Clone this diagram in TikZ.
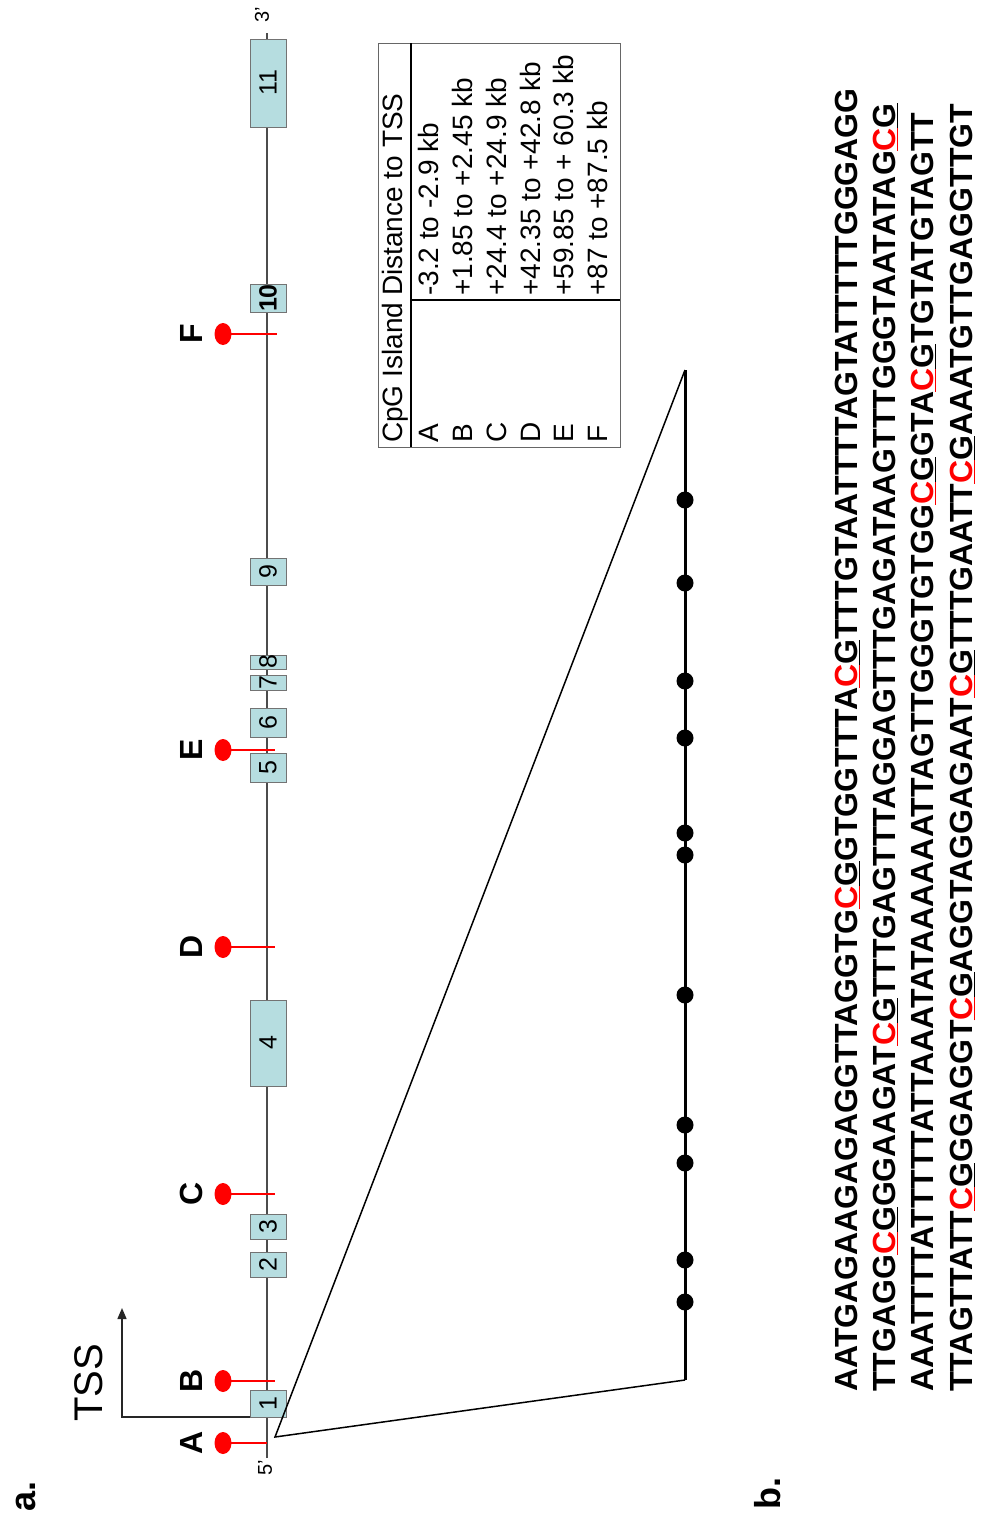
\documentclass[tikz,border=0pt]{standalone}
\usepackage{fontspec}
\setmainfont{Liberation Sans}
\usetikzlibrary{arrows.meta,shapes.geometric}
\definecolor{exonfill}{RGB}{182,221,224}
\definecolor{exonborder}{RGB}{115,115,115}
\definecolor{cpgred}{RGB}{255,0,0}
\newcommand{\cgm}{\textcolor{cpgred}{\underline{C}}\underline{G}}
\begin{document}
\begin{tikzpicture}[x=1pt,y=-1pt,
  rot/.style={rotate=90,inner sep=0pt},
  exon/.style={draw=exonborder,fill=exonfill,line width=1pt,rotate=90,minimum height=36pt,inner sep=0pt,font=\fontsize{25}{25}\selectfont},
  backbone/.style={draw=black!70,line width=1.2pt},
  cpgdot/.style={ellipse,fill=cpgred,minimum width=17pt,minimum height=22pt,inner sep=0pt},
  cpgline/.style={draw=cpgred,line width=1.3pt},
  cpglabel/.style={rot,font=\bfseries\fontsize{32}{32}\selectfont},
  blackdot/.style={circle,fill=black,minimum size=17pt,inner sep=0pt},
  seq/.style={rot,anchor=base west,font=\bfseries\fontsize{32}{32}\selectfont},
  tabtext/.style={rot,anchor=base west,font=\fontsize{28}{28}\selectfont},
  panel/.style={rot,font=\bfseries\fontsize{36}{36}\selectfont}]
\useasboundingbox (0,0) rectangle (981,1521);
% backbone
\coordinate (g5) at (267,1458);
\coordinate (g3) at (267,33);
\draw[backbone] (g5) -- (g3);
\node[rot,font=\fontsize{20}{20}\selectfont] (p5) at (265,1468) {5'};
\node[rot,font=\fontsize{20}{20}\selectfont] (p3) at (262,15) {3'};
% exons
\node[exon,minimum width=27pt] (e1) at (268,1403.5) {1};
\node[exon,minimum width=25pt] (e2) at (268,1264.5) {2};
\node[exon,minimum width=25pt] (e3) at (268,1226.5) {3};
\node[exon,minimum width=86pt] (e4) at (268,1043) {4};
\node[exon,minimum width=29pt] (e5) at (268,767.5) {5};
\node[exon,minimum width=29pt] (e6) at (268,722.5) {6};
\node[exon,minimum width=15pt] (e7) at (268,682.5) {7};
\node[exon,minimum width=14pt] (e8) at (268,662) {8};
\node[exon,minimum width=27pt] (e9) at (268,571.5) {9};
\node[exon,minimum width=28pt,font=\bfseries\fontsize{25}{25}\selectfont] (e10) at (268,298) {10};
\node[exon,minimum width=88pt] (e11) at (268,83) {11};
% TSS arrow
\coordinate (tssA) at (250,1417);
\coordinate (tssB) at (122,1417);
\coordinate (tssC) at (122,1308);
\draw[line width=1.5pt,black!85,-{Triangle[length=11pt,width=9pt]}] (tssA) -- (tssB) -- (tssC);
\node[rot,font=\fontsize{40}{40}\selectfont] (tss) at (89,1383) {TSS};
% CpG islands
\foreach \n/\y/\e in {A/1443/267,B/1381/275,C/1194/275,D/947/275,E/750/275,F/334/277}{
  \node[cpgdot] (d\n) at (223,\y) {};
  \coordinate (t\n) at (\e,\y);
  \draw[cpgline] (d\n.center) -- (t\n);
  \node[cpglabel] (l\n) at (191,\y) {\n};
}
% zoom
\coordinate (z0) at (275,1437);
\coordinate (zt) at (685,370);
\coordinate (zb) at (685,1380);
\draw[line width=1.5pt] (zt) -- (z0) -- (zb);
\draw[line width=3pt] (zt) -- (zb);
\foreach \y [count=\i] in {500,583,681,738,833,855,995,1125,1163,1260,1302}{
  \node[blackdot] (k\i) at (685,\y) {};
}
% table
\coordinate (tb1) at (378,43);
\coordinate (tb2) at (620,447);
\draw[black!60,line width=1pt] (tb1) rectangle (tb2);
\coordinate (tv1) at (411,43);
\coordinate (tv2) at (411,447);
\draw[line width=2pt] (tv1) -- (tv2);
\coordinate (th1) at (411,300);
\coordinate (th2) at (620,300);
\draw[line width=1.5pt] (th1) -- (th2);
\node[tabtext] (h1) at (402,443) {CpG Island};
\node[tabtext] (h2) at (402,296) {Distance to TSS};
\foreach \n/\x/\v in {A/438/{-3.2 to -2.9 kb},B/472/{+1.85 to +2.45 kb},C/506/{+24.4 to +24.9 kb},D/540/{+42.35 to +42.8 kb},E/573/{+59.85 to + 60.3 kb},F/607/{+87 to +87.5 kb}}{
  \node[tabtext] (r\n) at (\x,443) {\n};
  \node[tabtext] (v\n) at (\x,296) {\v};
}
% sequence
\node[seq] (s1) at (857,1392) {AATGAGAAGAGAGGTTAGGTG\cgm GTGGTTTA\cgm TTTGTAATTTTAGTATTTTTGGGAGG};
\node[seq] (s2) at (895,1392) {TTGAGG\cgm GGAAGAT\cgm TTTGAGTTTAGGAGTTTGAGATAAGTTTGGGTAATATAG\cgm};
\node[seq] (s3) at (933,1392) {AAATTTTATTTTTATTAAATATAAAAAATTAGTTGGGTGTGG\cgm GTA\cgm TGTATGTAGTT};
\node[seq] (s4) at (972,1392) {TTAGTTATT\cgm GGAGGT\cgm AGGTAGGAGAAT\cgm TTTGAATT\cgm AAATGTTGAGGTTGT};
% panel labels
\node[panel] (pa) at (26,1496) {a.};
\node[panel] (pb) at (768,1493) {b.};
\end{tikzpicture}
\end{document}
